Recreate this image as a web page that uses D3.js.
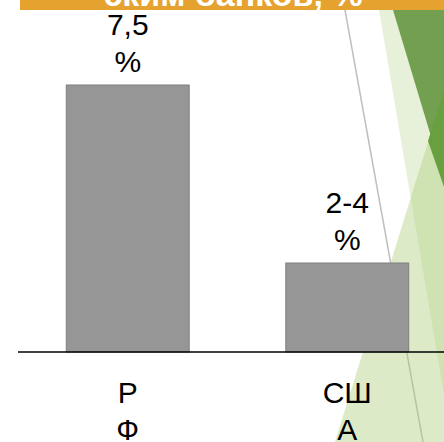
<!DOCTYPE html>
<html>
<head>
<meta charset="utf-8">
<script src="https://cdn.jsdelivr.net/npm/d3@7"></script>
<style>
    body { margin: 0; background: #fff; }
    svg { display: block; }
    text { font-family: "Liberation Sans", Arial, sans-serif; }
</style>
</head>
<body>
<svg width="444" height="442"></svg>
<script>
// chart data
const categories = ["РФ", "США"];
const categoryLines = [["Р", "Ф"], ["СШ", "А"]];   // wrapped as in the slide
const values = [7.5, 2.5];
const valueLabels = [["7,5", "%"], ["2-4", "%"]];
const titleText = "ским банков, %";

function draw() {
    let svg = d3.select("svg");
    svg.selectAll("*").remove();

    let baseY = 352;

    // background decoration (slide theme)
    let bg = svg.append("g");
    bg.append("line")
        .attr("x1", 345).attr("y1", 10)
        .attr("x2", 423).attr("y2", 442)
        .attr("stroke", "#bfbfbf")
        .attr("stroke-width", 1.5);
    let poly = (pts) => pts.map(p => p.join(",")).join(" ");
    bg.append("polygon")
        .attr("points", poly([[379, 10], [460, 10], [460, 442], [452, 442]]))
        .attr("fill", "#a9cc7a").attr("fill-opacity", 0.28);
    bg.append("polygon")
        .attr("points", poly([[335, 442], [460, 39], [460, 442]]))
        .attr("fill", "#a9cc7a").attr("fill-opacity", 0.41);
    bg.append("polygon")
        .attr("points", poly([[393, 10], [460, 10], [460, 233]]))
        .attr("fill", "#72a050");
    bg.append("polygon")
        .attr("points", poly([[428, 141], [460, 39], [460, 233]]))
        .attr("fill", "#68a040");

    let x = d3.scaleBand()
        .domain(categories)
        .range([18, 457])
        .paddingInner(0.44)
        .paddingOuter(0.22);

    let y = d3.scaleLinear()
        .domain([0, 7.5])
        .range([baseY, 85]);

    let data = categories.map((c, i) => ({cat: c, value: values[i], label: valueLabels[i], lines: categoryLines[i]}));

    // bars
    svg.append("g")
        .selectAll("rect")
        .data(data)
        .join("rect")
        .attr("x", d => x(d.cat))
        .attr("y", d => y(d.value))
        .attr("width", x.bandwidth())
        .attr("height", d => y(0) - y(d.value))
        .attr("fill", "#969696")
        .attr("stroke", "#7f7f7f")
        .attr("stroke-width", 1);

    // axis line
    svg.append("line")
        .attr("x1", 18).attr("x2", 444)
        .attr("y1", y(0)).attr("y2", y(0))
        .attr("stroke", "#000")
        .attr("stroke-width", 1.5);

    // value labels
    let lineH = 37.5;
    let vl = svg.append("g")
        .selectAll("text")
        .data(data)
        .join("text")
        .attr("text-anchor", "middle")
        .attr("font-size", 30)
        .attr("fill", "#000");
    vl.each(function(d) {
        let t = d3.select(this);
        let cx = x(d.cat) + x.bandwidth() / 2;
        let n = d.label.length;
        d.label.forEach((s, j) => {
            t.append("tspan")
                .attr("x", cx)
                .attr("y", y(d.value) - 13 - (n - 1 - j) * lineH)
                .text(s);
        });
    });

    // category labels
    let cl = svg.append("g")
        .selectAll("text")
        .data(data)
        .join("text")
        .attr("text-anchor", "middle")
        .attr("font-size", 30)
        .attr("fill", "#000");
    cl.each(function(d) {
        let t = d3.select(this);
        let cx = x(d.cat) + x.bandwidth() / 2;
        d.lines.forEach((s, j) => {
            t.append("tspan")
                .attr("x", cx)
                .attr("y", baseY + 51 + j * 37)
                .text(s);
        });
    });

    // title banner (cut off at the top)
    svg.append("rect")
        .attr("x", 20).attr("y", 0)
        .attr("width", 424).attr("height", 10)
        .attr("fill", "#e5a22f");
    svg.append("text")
        .attr("x", 233)
        .attr("y", 6)
        .attr("text-anchor", "middle")
        .attr("font-size", 34)
        .attr("font-weight", "bold")
        .attr("fill", "#fff")
        .text(titleText);
}

draw();
</script>
</body>
</html>
